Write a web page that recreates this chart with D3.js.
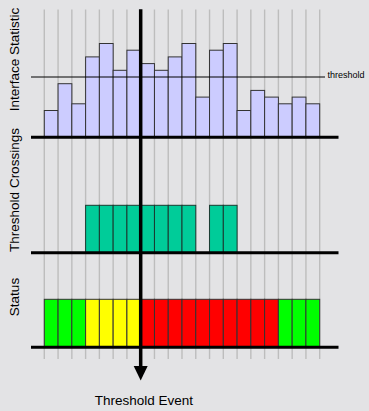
<!DOCTYPE html>
<html>
<head>
<meta charset="utf-8">
<script src="https://cdn.jsdelivr.net/npm/d3@7"></script>
<style>
  html, body { margin: 0; padding: 0; background: #e3e3e5; }
  svg { display: block; }
  text { font-family: "Liberation Sans", Arial, sans-serif; fill: #000; }
</style>
</head>
<body>
<svg id="chart" width="369" height="411"></svg>
<script>
// ---- data ----
const periods = d3.range(20);
const interfaceStat = [4, 8, 5, 12, 14, 10, 13, 11, 10, 12, 14, 6, 13, 14, 4, 7, 6, 5, 6, 5];
const thresholdValue = 9;
const crossings = [0, 0, 0, 1, 1, 1, 1, 1, 1, 1, 1, 0, 1, 1, 0, 0, 0, 0, 0, 0];
const status = ["green", "green", "green", "yellow", "yellow", "yellow", "yellow",
  "red", "red", "red", "red", "red", "red", "red", "red", "red", "red",
  "green", "green", "green"];
const statusColors = { green: "#00ff00", yellow: "#ffff00", red: "#ff0000" };
const panelLabels = ["Interface Statistic", "Threshold Crossings", "Status"];
const eventIndex = 7;

// ---- drawing ----
const svg = d3.select("#chart");
const x = d3.scaleBand().domain(periods).range([44.3, 319.7]).padding(0);

const yTop = d3.scaleLinear().domain([0, 20]).range([137.3, 3.3]);
const yMid = d3.scaleLinear().domain([0, 1]).range([252.7, 205.3]);
const yBot = d3.scaleLinear().domain([0, 1]).range([347.3, 299.3]);

// grid lines at band edges
const edges = periods.map(d => x(d)).concat([x(19) + x.bandwidth()]);
svg.append("g").selectAll("line").data(edges).join("line")
  .attr("x1", d => d).attr("x2", d => d)
  .attr("y1", 9.5).attr("y2", 359)
  .attr("stroke", "#bdbdbd").attr("stroke-width", 1.4);

// top panel bars
svg.append("g").selectAll("rect").data(interfaceStat).join("rect")
  .attr("x", (d, i) => x(i)).attr("width", x.bandwidth())
  .attr("y", d => yTop(d)).attr("height", d => yTop(0) - yTop(d))
  .attr("fill", "#ccccff").attr("stroke", "#333").attr("stroke-width", 1);

// threshold line
svg.append("line")
  .attr("x1", 31).attr("x2", 325)
  .attr("y1", yTop(thresholdValue)).attr("y2", yTop(thresholdValue))
  .attr("stroke", "#000").attr("stroke-width", 1);
svg.append("text").attr("x", 327.5).attr("y", yTop(thresholdValue) + 1)
  .attr("font-size", 9).text("threshold");

// middle panel bars
svg.append("g").selectAll("rect").data(crossings.map((v, i) => ({v, i})).filter(d => d.v > 0)).join("rect")
  .attr("x", d => x(d.i)).attr("width", x.bandwidth())
  .attr("y", d => yMid(d.v)).attr("height", d => yMid(0) - yMid(d.v))
  .attr("fill", "#00cc99").attr("stroke", "#1a3a30").attr("stroke-width", 1);

// status bars
svg.append("g").selectAll("rect").data(status).join("rect")
  .attr("x", (d, i) => x(i)).attr("width", x.bandwidth())
  .attr("y", yBot(1)).attr("height", yBot(0) - yBot(1))
  .attr("fill", d => statusColors[d]).attr("stroke", "#333").attr("stroke-width", 1);

// baselines
[yTop(0), yMid(0), yBot(0)].forEach(y => {
  svg.append("line").attr("x1", 31).attr("x2", 338.5).attr("y1", y).attr("y2", y)
    .attr("stroke", "#000").attr("stroke-width", 3);
});

// event axis with arrow
const ex = x(eventIndex);
svg.append("line").attr("x1", ex).attr("x2", ex).attr("y1", 9.3).attr("y2", 368)
  .attr("stroke", "#000").attr("stroke-width", 3.5);
svg.append("path")
  .attr("d", `M${ex - 7},366 L${ex + 7},366 L${ex},380.5 Z`)
  .attr("fill", "#000");

// panel labels
const labelPos = [59.5, 190, 297];
panelLabels.forEach((t, i) => {
  svg.append("text")
    .attr("transform", `translate(18.5,${labelPos[i]}) rotate(-90)`)
    .attr("text-anchor", "middle").attr("font-size", 13.5).text(t);
});

svg.append("text").attr("x", 143.8).attr("y", 405)
  .attr("text-anchor", "middle").attr("font-size", 13.5).text("Threshold Event");
</script>
</body>
</html>
